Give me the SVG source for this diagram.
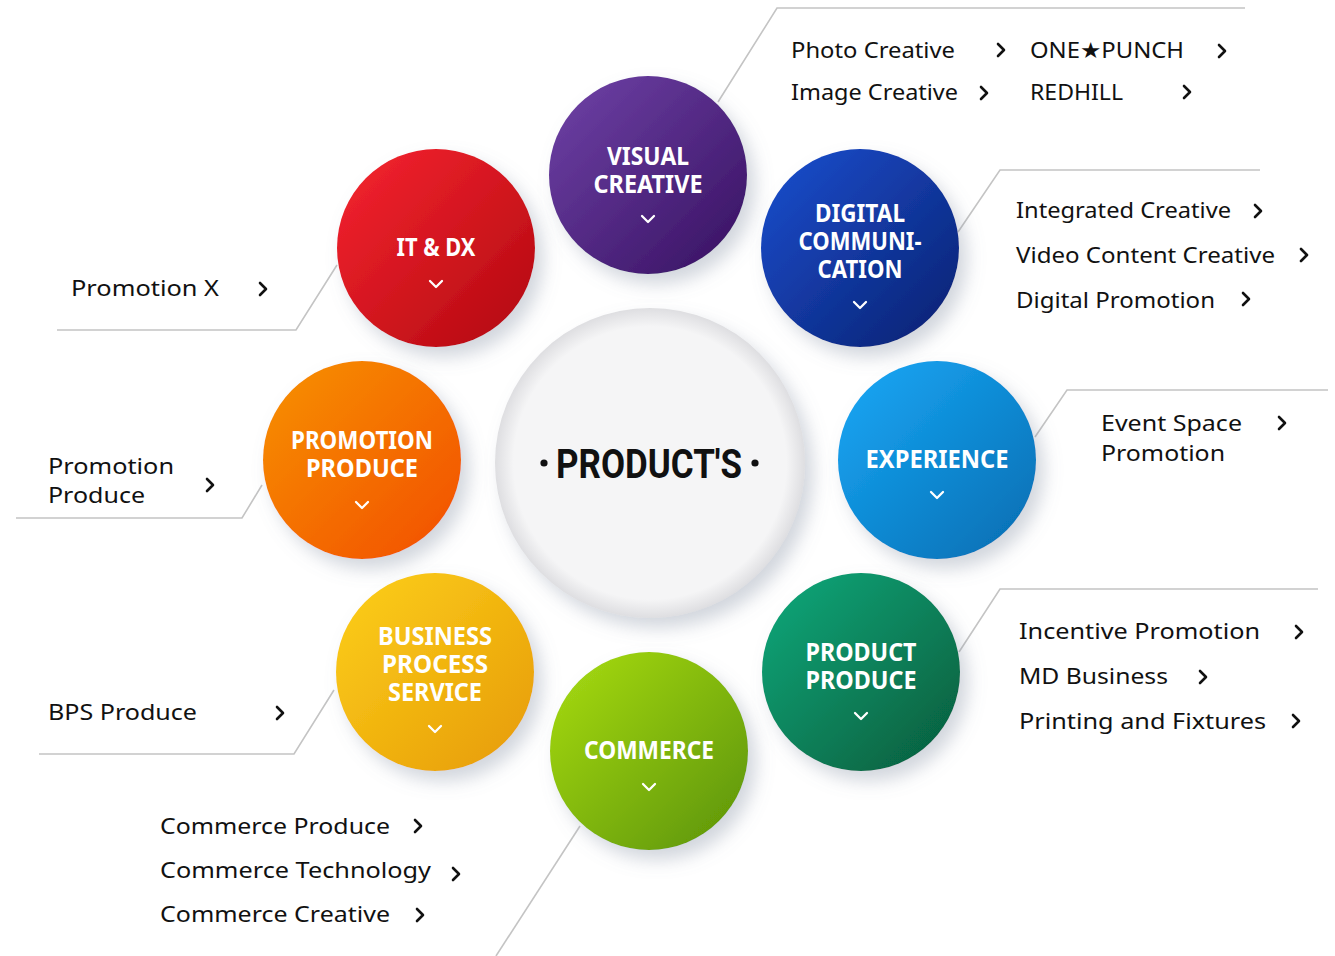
<svg xmlns="http://www.w3.org/2000/svg" xmlns:xlink="http://www.w3.org/1999/xlink" width="1335" height="956" viewBox="0 0 1335 956">
<style>
.sub{font-family:"Noto Sans","Open Sans","DejaVu Sans",sans-serif;font-size:22px;fill:#111;}
.lab{font-family:"Noto Sans","Open Sans",sans-serif;font-size:25px;font-weight:bold;fill:#fff;text-anchor:middle;}
.conn{fill:none;stroke:#c4c4c4;stroke-width:1.6;}
.chev{fill:none;stroke:#111;stroke-width:2.6;stroke-linecap:round;stroke-linejoin:round;}
.dchev{fill:none;stroke:#fff;stroke-width:2.3;stroke-linecap:round;stroke-linejoin:round;}
</style>
<defs>
<filter id="sh" x="-30%" y="-30%" width="170%" height="170%">
<feDropShadow dx="8" dy="10" stdDeviation="9" flood-color="#7d879c" flood-opacity="0.35"/>
</filter>
<linearGradient id="gVis" x1="0" y1="0" x2="1" y2="1"><stop offset="0" stop-color="#7043a8"/><stop offset="1" stop-color="#361060"/></linearGradient>
<linearGradient id="gIt" x1="0" y1="0" x2="1" y2="1"><stop offset="0" stop-color="#f72530"/><stop offset="1" stop-color="#b0080f"/></linearGradient>
<linearGradient id="gDig" x1="0" y1="0" x2="1" y2="1"><stop offset="0" stop-color="#1c4fd0"/><stop offset="1" stop-color="#08206f"/></linearGradient>
<linearGradient id="gPro" x1="0" y1="0" x2="1" y2="1"><stop offset="0" stop-color="#f79205"/><stop offset="1" stop-color="#f24e00"/></linearGradient>
<linearGradient id="gExp" x1="0" y1="0" x2="1" y2="1"><stop offset="0" stop-color="#1aa9f8"/><stop offset="1" stop-color="#036cb0"/></linearGradient>
<linearGradient id="gBps" x1="0" y1="0" x2="1" y2="1"><stop offset="0" stop-color="#fdd01c"/><stop offset="1" stop-color="#e69a04"/></linearGradient>
<linearGradient id="gPp" x1="0" y1="0" x2="1" y2="1"><stop offset="0" stop-color="#0eaa7c"/><stop offset="1" stop-color="#055a3a"/></linearGradient>
<linearGradient id="gCom" x1="0" y1="0" x2="1" y2="1"><stop offset="0" stop-color="#a9dd14"/><stop offset="1" stop-color="#5a9204"/></linearGradient>
<radialGradient id="gCen" cx="0.5" cy="0.5" r="0.5"><stop offset="0.88" stop-color="#f5f5f6"/><stop offset="1" stop-color="#dedee1"/></radialGradient>
<path id="c" class="chev" d="M-3,-6 L3,0 L-3,6"/>
<path id="d" class="dchev" d="M-6,-3 L0,3 L6,-3"/>
</defs>
<rect width="1335" height="956" fill="#fff"/>

<g id="connectors">
<polyline class="conn" points="718,102 777,8 1245,8"/>
<polyline class="conn" points="958,232 1000,170 1260,170"/>
<polyline class="conn" points="1035,437 1067,390 1328,390"/>
<polyline class="conn" points="959,652 1000,589 1318,589"/>
<polyline class="conn" points="337,265 296,330 57,330"/>
<polyline class="conn" points="262,485 242,518 16,518"/>
<polyline class="conn" points="334,690 294,754 39,754"/>
<polyline class="conn" points="580,826 496,956"/>
</g>

<g id="center">
<circle cx="650" cy="463" r="155" fill="url(#gCen)" filter="url(#sh)"/>
<circle cx="544" cy="463" r="3.6" fill="#111"/>
<circle cx="755" cy="463" r="3.6" fill="#111"/>
<text x="556" y="478" font-family="Roboto,'Noto Sans',sans-serif" font-weight="bold" font-size="41" fill="#111" textLength="186" lengthAdjust="spacingAndGlyphs">PRODUCT'S</text>
</g>

<g id="visual-creative">
<circle cx="648" cy="175" r="99" fill="url(#gVis)" filter="url(#sh)"/>
<text class="lab"><tspan x="648" y="165" textLength="82" lengthAdjust="spacingAndGlyphs">VISUAL</tspan><tspan x="648" y="193" textLength="109" lengthAdjust="spacingAndGlyphs">CREATIVE</tspan></text>
<use href="#d" x="648" y="219"/>
</g>

<g id="it-dx">
<circle cx="436" cy="248" r="99" fill="url(#gIt)" filter="url(#sh)"/>
<text class="lab" x="436" y="256" textLength="79" lengthAdjust="spacingAndGlyphs">IT &amp; DX</text>
<use href="#d" x="436" y="284"/>
</g>

<g id="digital-communication">
<circle cx="860" cy="248" r="99" fill="url(#gDig)" filter="url(#sh)"/>
<text class="lab"><tspan x="860" y="222" textLength="90" lengthAdjust="spacingAndGlyphs">DIGITAL</tspan><tspan x="860" y="250" textLength="123" lengthAdjust="spacingAndGlyphs">COMMUNI-</tspan><tspan x="860" y="278" textLength="85" lengthAdjust="spacingAndGlyphs">CATION</tspan></text>
<use href="#d" x="860" y="305"/>
</g>

<g id="promotion-produce">
<circle cx="362" cy="460" r="99" fill="url(#gPro)" filter="url(#sh)"/>
<text class="lab"><tspan x="362" y="449" textLength="142" lengthAdjust="spacingAndGlyphs">PROMOTION</tspan><tspan x="362" y="477" textLength="112" lengthAdjust="spacingAndGlyphs">PRODUCE</tspan></text>
<use href="#d" x="362" y="505"/>
</g>

<g id="experience">
<circle cx="937" cy="460" r="99" fill="url(#gExp)" filter="url(#sh)"/>
<text class="lab" x="937" y="468" textLength="143" lengthAdjust="spacingAndGlyphs">EXPERIENCE</text>
<use href="#d" x="937" y="495"/>
</g>

<g id="business-process-service">
<circle cx="435" cy="672" r="99" fill="url(#gBps)" filter="url(#sh)"/>
<text class="lab"><tspan x="435" y="645" textLength="114" lengthAdjust="spacingAndGlyphs">BUSINESS</tspan><tspan x="435" y="673" textLength="106" lengthAdjust="spacingAndGlyphs">PROCESS</tspan><tspan x="435" y="701" textLength="94" lengthAdjust="spacingAndGlyphs">SERVICE</tspan></text>
<use href="#d" x="435" y="729"/>
</g>

<g id="product-produce">
<circle cx="861" cy="672" r="99" fill="url(#gPp)" filter="url(#sh)"/>
<text class="lab"><tspan x="861" y="661" textLength="111" lengthAdjust="spacingAndGlyphs">PRODUCT</tspan><tspan x="861" y="689" textLength="111" lengthAdjust="spacingAndGlyphs">PRODUCE</tspan></text>
<use href="#d" x="861" y="716"/>
</g>

<g id="commerce">
<circle cx="649" cy="751" r="99" fill="url(#gCom)" filter="url(#sh)"/>
<text class="lab" x="649" y="759" textLength="130" lengthAdjust="spacingAndGlyphs">COMMERCE</text>
<use href="#d" x="649" y="787"/>
</g>

<g id="list-visual">
<text class="sub" x="791" y="58" textLength="164" lengthAdjust="spacingAndGlyphs">Photo Creative</text>
<use href="#c" x="1001" y="50"/>
<text class="sub" x="1030" y="58" textLength="154" lengthAdjust="spacingAndGlyphs">ONE★PUNCH</text>
<use href="#c" x="1222" y="51"/>
<text class="sub" x="791" y="100" textLength="167" lengthAdjust="spacingAndGlyphs">Image Creative</text>
<use href="#c" x="984" y="93"/>
<text class="sub" x="1030" y="100" textLength="93" lengthAdjust="spacingAndGlyphs">REDHILL</text>
<use href="#c" x="1187" y="92"/>
</g>

<g id="list-digital">
<text class="sub" x="1016" y="218" textLength="215" lengthAdjust="spacingAndGlyphs">Integrated Creative</text>
<use href="#c" x="1258" y="211"/>
<text class="sub" x="1016" y="263" textLength="259" lengthAdjust="spacingAndGlyphs">Video Content Creative</text>
<use href="#c" x="1304" y="255"/>
<text class="sub" x="1016" y="308" textLength="199" lengthAdjust="spacingAndGlyphs">Digital Promotion</text>
<use href="#c" x="1246" y="299"/>
</g>

<g id="list-experience">
<text class="sub"><tspan x="1101" y="431" textLength="141" lengthAdjust="spacingAndGlyphs">Event Space</tspan><tspan x="1101" y="461" textLength="124" lengthAdjust="spacingAndGlyphs">Promotion</tspan></text>
<use href="#c" x="1282" y="423"/>
</g>

<g id="list-product-produce">
<text class="sub" x="1019" y="639" textLength="241" lengthAdjust="spacingAndGlyphs">Incentive Promotion</text>
<use href="#c" x="1299" y="632"/>
<text class="sub" x="1019" y="684" textLength="149" lengthAdjust="spacingAndGlyphs">MD Business</text>
<use href="#c" x="1203" y="677"/>
<text class="sub" x="1019" y="729" textLength="247" lengthAdjust="spacingAndGlyphs">Printing and Fixtures</text>
<use href="#c" x="1296" y="721"/>
</g>

<g id="list-it">
<text class="sub" x="71" y="296" textLength="148" lengthAdjust="spacingAndGlyphs">Promotion X</text>
<use href="#c" x="263" y="289"/>
</g>

<g id="list-promotion">
<text class="sub"><tspan x="48" y="474" textLength="126" lengthAdjust="spacingAndGlyphs">Promotion</tspan><tspan x="48" y="503" textLength="97" lengthAdjust="spacingAndGlyphs">Produce</tspan></text>
<use href="#c" x="210" y="485"/>
</g>

<g id="list-bps">
<text class="sub" x="48" y="720" textLength="149" lengthAdjust="spacingAndGlyphs">BPS Produce</text>
<use href="#c" x="280" y="713"/>
</g>

<g id="list-commerce">
<text class="sub" x="160" y="834" textLength="230" lengthAdjust="spacingAndGlyphs">Commerce Produce</text>
<use href="#c" x="418" y="826"/>
<text class="sub" x="160" y="878" textLength="271" lengthAdjust="spacingAndGlyphs">Commerce Technology</text>
<use href="#c" x="456" y="874"/>
<text class="sub" x="160" y="922" textLength="230" lengthAdjust="spacingAndGlyphs">Commerce Creative</text>
<use href="#c" x="420" y="915"/>
</g>
</svg>
